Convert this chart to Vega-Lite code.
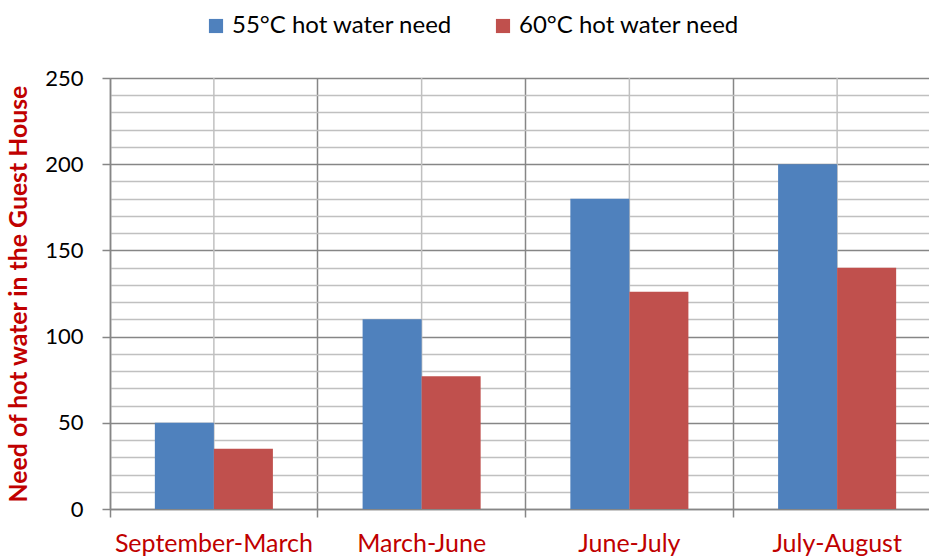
{
  "$schema": "https://vega.github.io/schema/vega-lite/v6.json",
  "width": 819,
  "height": 431,
  "autosize": {"type": "none"},
  "padding": {"left": 110, "top": 78, "right": 0, "bottom": 47},
  "background": "white",
  "config": {
    "view": {"stroke": null},
    "font": "Lato"
  },
  "data": {
    "values": [
      {"period": "September-March", "series": "55°C hot water need", "value": 50},
      {"period": "September-March", "series": "60°C hot water need", "value": 35},
      {"period": "March-June", "series": "55°C hot water need", "value": 110},
      {"period": "March-June", "series": "60°C hot water need", "value": 77},
      {"period": "June-July", "series": "55°C hot water need", "value": 180},
      {"period": "June-July", "series": "60°C hot water need", "value": 126},
      {"period": "July-August", "series": "55°C hot water need", "value": 200},
      {"period": "July-August", "series": "60°C hot water need", "value": 140}
    ]
  },
  "layer": [
    {
      "transform": [{"filter": "datum.series === '55°C hot water need'"}],
      "mark": {"type": "rule", "color": "#c0c0c0", "strokeWidth": 1.5},
      "encoding": {
        "x": {"field": "period", "type": "nominal", "sort": null}
      }
    },
    {
      "mark": {"type": "bar"},
      "encoding": {
        "x": {
          "field": "period",
          "type": "nominal",
          "sort": null,
          "scale": {"range": [0, 831], "paddingInner": 0, "paddingOuter": 0},
          "axis": {
            "title": null,
            "bandPosition": 0,
            "grid": true,
            "gridColor": "#868686",
            "gridWidth": 1.5,
            "domainColor": "#868686",
            "domainWidth": 1.5,
            "tickColor": "#868686",
            "tickWidth": 1.5,
            "tickSize": 8,
            "labelColor": "#C00000",
            "labelFontSize": 25,
            "labelFont": "Lato",
            "labelPadding": 26,
            "labelAngle": 0,
            "labelAlign": "center",
            "labelLimit": 300
          }
        },
        "xOffset": {
          "field": "series",
          "type": "nominal",
          "scale": {"paddingOuter": 0.76, "paddingInner": 0}
        },
        "y": {
          "field": "value",
          "type": "quantitative",
          "scale": {"domain": [0, 250], "nice": false},
          "axis": {
            "title": "Need of hot water in the Guest House",
            "titleColor": "#C00000",
            "titleFontSize": 24.8,
            "titleFontWeight": "bold",
            "titleFont": "Lato",
            "titlePadding": 13,
            "values": [0,10,20,30,40,50,60,70,80,90,100,110,120,130,140,150,160,170,180,190,200,210,220,230,240,250],
            "labelExpr": "datum.value % 50 === 0 ? datum.label : ''",
            "labelFontSize": 22,
            "labelFont": "Lato",
            "labelColor": "#000000",
            "labelPadding": 19,
            "grid": true,
            "gridColor": {"condition": {"test": "datum.value % 50 === 0", "value": "#868686"}, "value": "#c0c0c0"},
            "gridWidth": 1.5,
            "tickColor": "#868686",
            "tickWidth": 1.5,
            "tickSize": 8,
            "tickOpacity": {"condition": {"test": "datum.value % 50 === 0", "value": 1}, "value": 0},
            "domainColor": "#868686",
            "domainWidth": 1.5
          }
        },
        "color": {
          "field": "series",
          "type": "nominal",
          "scale": {"domain": ["55°C hot water need", "60°C hot water need"], "range": ["#4F81BD", "#C0504D"]},
          "legend": {
            "title": null,
            "orient": "none",
            "direction": "horizontal",
            "legendX": 94,
            "legendY": -64,
            "symbolType": "square",
            "symbolSize": 200,
            "symbolStrokeWidth": 0,
            "labelFontSize": 24,
            "labelFont": "Lato",
            "labelColor": "#000000",
            "labelOffset": 4,
            "columnPadding": 38,
            "labelLimit": 400
          }
        }
      }
    }
  ]
}
